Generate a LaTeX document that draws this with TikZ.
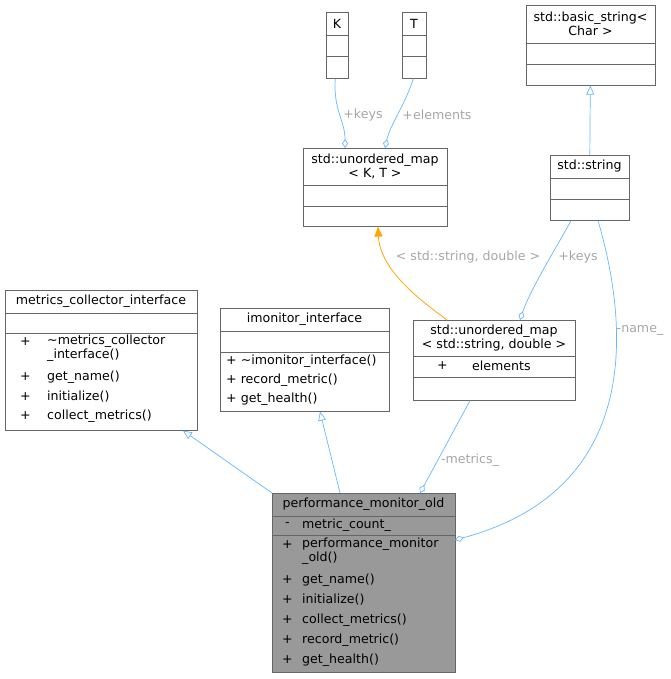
\documentclass[tikz,border=0pt]{standalone}
\usepackage{fontspec}
\setmainfont{DejaVu Sans}
\usetikzlibrary{arrows.meta,calc}
\begin{document}
\begin{tikzpicture}[x=1pt,y=-1pt,
  box/.style={draw=black!60,line width=0.6pt,anchor=north west,inner sep=0pt},
  sep/.style={draw=black!60,line width=0.6pt},
  t/.style={font=\fontsize{12.6}{14}\selectfont,inner sep=0pt,align=center},
  tl/.style={font=\fontsize{12.6}{14}\selectfont,inner sep=0pt,anchor=west},
  lab/.style={font=\fontsize{12.6}{14}\selectfont,text=black!35,inner sep=1pt},
  e/.style={draw={rgb,255:red,99;green,184;blue,255},line width=0.7pt},
  dia/.style={-{Diamond[open,length=9pt,width=6pt]}},
  inh/.style={-{Triangle[open,length=9pt,width=8pt]}}]
\useasboundingbox (0,0) rectangle (670,679);
% K
\node[box,minimum width=22,minimum height=66] (K) at (326,12) {};
\draw[sep] (326,35)--(348,35) (326,56)--(348,56);
\node[t] at (337,23.5) {K};
% T
\node[box,minimum width=24,minimum height=66] (T) at (402,12) {};
\draw[sep] (402,35)--(426,35) (402,56)--(426,56);
\node[t] at (414,23.5) {T};
% basic_string
\node[box,minimum width=129,minimum height=80] (BS) at (526,5) {};
\draw[sep] (526,43)--(655,43) (526,64)--(655,64);
\node[t] at (590.5,24) {std::basic\_string\textless\\Char \textgreater};
% unordered_map K,T
\node[box,minimum width=144,minimum height=78] (UM) at (303,148) {};
\draw[sep] (303,185)--(447,185) (303,206)--(447,206);
\node[t] at (375,166.5) {std::unordered\_map\\\textless{} K, T \textgreater};
% std::string
\node[box,minimum width=79,minimum height=65] (S) at (550,155) {};
\draw[sep] (550,178)--(629,178) (550,199)--(629,199);
\node[t] at (589.5,166.5) {std::string};
% metrics_collector_interface
\node[box,minimum width=192,minimum height=140] (MC) at (5,290) {};
\draw[sep] (5,313)--(197,313) (5,333)--(197,333);
\node[t] at (101,301.5) {metrics\_collector\_interface};
\node[tl] at (20,342) {+};
\node[tl,anchor=north west,align=left] at (47,335) {\textasciitilde metrics\_collector\\\_interface()};
\node[tl] at (20,377) {+}; \node[tl] at (47,377) {get\_name()};
\node[tl] at (20,397) {+}; \node[tl] at (47,397) {initialize()};
\node[tl] at (20,416) {+}; \node[tl] at (47,416) {collect\_metrics()};
% imonitor_interface
\node[box,minimum width=169,minimum height=103] (IM) at (220,308) {};
\draw[sep] (220,331)--(389,331) (220,352)--(389,352);
\node[t] at (304.5,319.5) {imonitor\_interface};
\node[tl] at (226,361) {+ \textasciitilde imonitor\_interface()};
\node[tl] at (226,380) {+ record\_metric()};
\node[tl] at (226,399) {+ get\_health()};
% unordered_map string,double
\node[box,minimum width=162,minimum height=80] (UD) at (413,320) {};
\draw[sep] (413,356)--(575,356) (413,377)--(575,377);
\node[t] at (494,338) {std::unordered\_map\\\textless{} std::string, double \textgreater};
\node[tl] at (437,366) {+}; \node[tl] at (472,366) {elements};
% performance_monitor_old
\node[box,fill=black!40,minimum width=183,minimum height=179] (P) at (272,493) {};
\draw[sep] (272,516)--(455,516) (272,535)--(455,535);
\node[t] at (363.5,504.5) {performance\_monitor\_old};
\node[tl] at (285,525) {-}; \node[tl] at (302,525) {metric\_count\_};
\node[tl] at (282,545) {+};
\node[tl,anchor=north west,align=left] at (302,538) {performance\_monitor\\\_old()};
\node[tl] at (282,580) {+}; \node[tl] at (302,580) {get\_name()};
\node[tl] at (282,600) {+}; \node[tl] at (302,600) {initialize()};
\node[tl] at (282,620) {+}; \node[tl] at (302,620) {collect\_metrics()};
\node[tl] at (282,640) {+}; \node[tl] at (302,640) {record\_metric()};
\node[tl] at (282,660) {+}; \node[tl] at (302,660) {get\_health()};
% edges
\draw[e,dia] ($(K.south)+(-2,0)$) .. controls (333,110) and (345,120) .. ($(UM.north west)+(42,0)$);
\node[lab] at (363,115) {+keys};
\draw[e,dia] ($(T.south)+(-1,0)$) .. controls (405,105) and (390,125) .. ($(UM.north west)+(82,0)$);
\node[lab] at (437,115) {+elements};
\draw[e,inh] (S.north) -- ($(BS.south)+(-0.5,0)$);
\draw[draw={rgb,255:red,255;green,165;blue,0},line width=0.8pt,-{Triangle[length=10pt,width=8pt]}]
  ($(UD.north west)+(34,0)$) .. controls (420,300) and (380,270) .. ($(UM.south west)+(75,0)$);
\node[lab] at (468,257) {\textless{} std::string, double \textgreater};
\draw[e,dia] ($(S.south west)+(21,0)$) .. controls (555,250) and (530,290) .. ($(UD.north west)+(107,0)$);
\node[lab] at (578,257) {+keys};
\draw[e,dia] ($(S.south west)+(48,0)$) .. controls (630,330) and (640,490) .. (455,540);
\node[lab] at (640,330) {-name\_};
\draw[e,dia] ($(UD.south west)+(57,0)$) -- ($(P.north west)+(148,0)$);
\node[lab] at (470,460) {-metrics\_};
\draw[e,inh] ($(P.north west)+(0,0)$) -- ($(MC.south west)+(178,0)$);
\draw[e,inh] ($(P.north west)+(68,0)$) -- ($(IM.south west)+(100,0)$);
\end{tikzpicture}
\end{document}
